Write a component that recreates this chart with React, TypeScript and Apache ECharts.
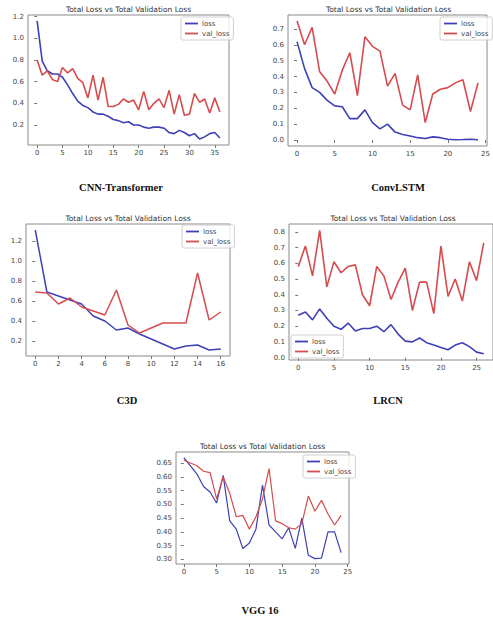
import React, { useEffect, useRef } from "react";
import * as echarts from "echarts";

const cnnLoss = [1.16, 0.79, 0.7, 0.67, 0.67, 0.64, 0.57, 0.49, 0.42, 0.38, 0.36, 0.32, 0.3, 0.3, 0.28, 0.25, 0.24, 0.22, 0.23, 0.2, 0.2, 0.18, 0.17, 0.18, 0.18, 0.17, 0.13, 0.12, 0.15, 0.13, 0.1, 0.12, 0.07, 0.09, 0.12, 0.13, 0.08];
const cnnVal = [0.8, 0.66, 0.7, 0.62, 0.6, 0.73, 0.68, 0.72, 0.63, 0.59, 0.45, 0.66, 0.43, 0.64, 0.37, 0.37, 0.39, 0.44, 0.41, 0.43, 0.34, 0.51, 0.34, 0.4, 0.44, 0.36, 0.52, 0.3, 0.48, 0.29, 0.3, 0.49, 0.41, 0.44, 0.31, 0.45, 0.32];

const convLoss = [0.62, 0.45, 0.33, 0.3, 0.25, 0.215, 0.21, 0.135, 0.135, 0.19, 0.11, 0.07, 0.1, 0.05, 0.035, 0.025, 0.015, 0.01, 0.02, 0.015, 0.005, 0.002, 0.003, 0.005, 0.002];
const convVal = [0.75, 0.6, 0.71, 0.43, 0.37, 0.29, 0.44, 0.55, 0.28, 0.65, 0.59, 0.56, 0.34, 0.42, 0.22, 0.19, 0.41, 0.11, 0.29, 0.32, 0.33, 0.36, 0.38, 0.18, 0.36];

const c3dLoss = [1.31, 0.69, 0.65, 0.61, 0.57, 0.45, 0.4, 0.31, 0.33, 0.27, 0.22, 0.17, 0.12, 0.15, 0.16, 0.11, 0.12];
const c3dVal = [0.69, 0.68, 0.57, 0.63, 0.54, 0.5, 0.46, 0.71, 0.36, 0.28, 0.33, 0.38, 0.38, 0.38, 0.88, 0.41, 0.49];

const lrcnLoss = [0.27, 0.29, 0.24, 0.31, 0.25, 0.2, 0.18, 0.22, 0.17, 0.185, 0.185, 0.2, 0.165, 0.21, 0.15, 0.105, 0.1, 0.125, 0.095, 0.08, 0.065, 0.05, 0.08, 0.095, 0.07, 0.035, 0.025];
const lrcnVal = [0.58, 0.71, 0.52, 0.81, 0.45, 0.61, 0.54, 0.58, 0.59, 0.4, 0.33, 0.58, 0.52, 0.37, 0.48, 0.57, 0.3, 0.48, 0.48, 0.28, 0.71, 0.39, 0.5, 0.36, 0.61, 0.49, 0.73];

const vggLoss = [0.67, 0.64, 0.61, 0.565, 0.545, 0.505, 0.605, 0.44, 0.41, 0.34, 0.36, 0.41, 0.57, 0.425, 0.4, 0.375, 0.415, 0.34, 0.45, 0.315, 0.303, 0.305, 0.4, 0.4, 0.325];
const vggVal = [0.66, 0.65, 0.64, 0.62, 0.615, 0.52, 0.6, 0.54, 0.455, 0.46, 0.41, 0.455, 0.52, 0.63, 0.44, 0.43, 0.415, 0.41, 0.43, 0.53, 0.475, 0.515, 0.465, 0.425, 0.46];

const cnnXTicks = [0, 5, 10, 15, 20, 25, 30, 35];
const cnnYTicks = [0.2, 0.4, 0.6, 0.8, 1.0, 1.2];
const convXTicks = [0, 5, 10, 15, 20, 25];
const convYTicks = [0.0, 0.1, 0.2, 0.3, 0.4, 0.5, 0.6, 0.7];
const c3dXTicks = [0, 2, 4, 6, 8, 10, 12, 14, 16];
const c3dYTicks = [0.2, 0.4, 0.6, 0.8, 1.0, 1.2];
const lrcnXTicks = [0, 5, 10, 15, 20, 25];
const lrcnYTicks = [0.0, 0.1, 0.2, 0.3, 0.4, 0.5, 0.6, 0.7, 0.8];
const vggXTicks = [0, 5, 10, 15, 20, 25];
const vggYTicks = [0.3, 0.35, 0.4, 0.45, 0.5, 0.55, 0.6, 0.65];

const modelNames = ["CNN-Transformer", "ConvLSTM", "C3D", "LRCN", "VGG 16"];
const plotTitle = "Total Loss vs Total Validation Loss";
const seriesNames = ["loss", "val_loss"];

const LOSS_COLOR = "#3d41b5";
const VAL_COLOR = "#d64b4d";

type Panel = {
  loss: number[];
  val: number[];
  xTicks: number[];
  yTicks: number[];
  xMin: number; xMax: number; yMin: number; yMax: number;
  grid: { left: number; top: number; width: number; height: number };
  yDigits: number;
  legend: { left: number; top: number };
  caption: { x: number; y: number };
  lineWidth: number;
};

const panels: Panel[] = [
  { loss: cnnLoss, val: cnnVal, xTicks: cnnXTicks, yTicks: cnnYTicks, xMin: -1.8, xMax: 37.8, yMin: 0.015, yMax: 1.215,
    grid: { left: 28, top: 15, width: 201, height: 130 }, yDigits: 1, legend: { left: 181, top: 17 }, caption: { x: 121, y: 187 }, lineWidth: 1.6 },
  { loss: convLoss, val: convVal, xTicks: convXTicks, yTicks: convYTicks, xMin: -1.2, xMax: 25.2, yMin: -0.0375, yMax: 0.7875,
    grid: { left: 288, top: 15, width: 201, height: 131 }, yDigits: 1, legend: { left: 440, top: 17 }, caption: { x: 398, y: 187 }, lineWidth: 1.6 },
  { loss: c3dLoss, val: c3dVal, xTicks: c3dXTicks, yTicks: c3dYTicks, xMin: -0.8, xMax: 16.8, yMin: 0.05, yMax: 1.37,
    grid: { left: 26, top: 224, width: 204, height: 132 }, yDigits: 1, legend: { left: 182, top: 225 }, caption: { x: 127, y: 400 }, lineWidth: 1.5 },
  { loss: lrcnLoss, val: lrcnVal, xTicks: lrcnXTicks, yTicks: lrcnYTicks, xMin: -1.3, xMax: 27.3, yMin: -0.015, yMax: 0.85,
    grid: { left: 289, top: 224, width: 208, height: 136 }, yDigits: 1, legend: { left: 291, top: 335 }, caption: { x: 388, y: 400 }, lineWidth: 1.6 },
  { loss: vggLoss, val: vggVal, xTicks: vggXTicks, yTicks: vggYTicks, xMin: -1.2, xMax: 25.2, yMin: 0.2835, yMax: 0.69,
    grid: { left: 176, top: 452, width: 173, height: 112 }, yDigits: 2, legend: { left: 303, top: 455 }, caption: { x: 260, y: 610 }, lineWidth: 1.2 },
];

export default function App() {
  const ref = useRef<HTMLDivElement>(null);
  useEffect(() => {
    if (!ref.current) return;
    const chart = echarts.init(ref.current, undefined, { renderer: "svg" });
    const grids: any[] = [];
    const xAxes: any[] = [];
    const yAxes: any[] = [];
    const series: any[] = [];
    const legends: any[] = [];
    const graphics: any[] = [];
    panels.forEach((p, i) => {
      grids.push({ ...p.grid, show: true, borderColor: "#8a8a8a", borderWidth: 1, backgroundColor: "#fff" });
      xAxes.push({
        type: "value", gridIndex: i, min: p.xMin, max: p.xMax,
        axisLine: { show: false }, splitLine: { show: false },
        axisTick: { show: true, length: 3, lineStyle: { color: "#777" }, customValues: p.xTicks },
        axisLabel: { customValues: p.xTicks, fontSize: 7, color: "#444", margin: 4, fontFamily: "DejaVu Sans" },
      });
      yAxes.push({
        type: "value", gridIndex: i, min: p.yMin, max: p.yMax,
        axisLine: { show: false }, splitLine: { show: false },
        axisTick: { show: true, length: 3, lineStyle: { color: "#777" }, customValues: p.yTicks },
        axisLabel: {
          customValues: p.yTicks, fontSize: 7, color: "#444", margin: 4, fontFamily: "DejaVu Sans",
          formatter: (v: number) => v.toFixed(p.yDigits),
        },
      });
      series.push({
        type: "line", name: seriesNames[0], xAxisIndex: i, yAxisIndex: i, symbol: "none",
        data: p.loss.map((v, k) => [k, v]), lineStyle: { color: LOSS_COLOR, width: p.lineWidth }, itemStyle: { color: LOSS_COLOR },
      });
      series.push({
        type: "line", name: seriesNames[1], xAxisIndex: i, yAxisIndex: i, symbol: "none",
        data: p.val.map((v, k) => [k, v]), lineStyle: { color: VAL_COLOR, width: p.lineWidth }, itemStyle: { color: VAL_COLOR },
      });
      legends.push({
        data: seriesNames.map((n) => ({ name: n, icon: "rect" })),
        orient: "vertical", left: p.legend.left, top: p.legend.top,
        itemWidth: 13, itemHeight: 1.8, itemGap: 3, padding: [3, 4, 3, 4],
        borderColor: "#d0d0d0", borderWidth: 1, borderRadius: 2, backgroundColor: "rgba(255,255,255,0.8)",
        textStyle: { fontSize: 7, color: "#444", fontFamily: "DejaVu Sans", padding: [0, 0, 0, -1] },
        selectedMode: false,
      });
      graphics.push({
        type: "text", x: p.grid.left + p.grid.width / 2, y: p.grid.top - 6,
        style: { text: plotTitle, fontSize: 7.5, fill: "#333", fontFamily: "DejaVu Sans", align: "center", verticalAlign: "middle" },
      });
      graphics.push({
        type: "text", x: p.caption.x, y: p.caption.y,
        style: { text: modelNames[i], fontSize: 10.5, fontWeight: "bold", fill: "#111", fontFamily: "Liberation Serif", align: "center", verticalAlign: "middle" },
      });
    });
    chart.setOption({
      animation: false,
      backgroundColor: "#fff",
      grid: grids,
      xAxis: xAxes,
      yAxis: yAxes,
      series,
      legend: legends,
      graphic: graphics,
    });
    return () => chart.dispose();
  }, []);
  return <div ref={ref} style={{ position: "fixed", left: 0, top: 0, width: 493, height: 621, overflow: "hidden" }} />;
}
